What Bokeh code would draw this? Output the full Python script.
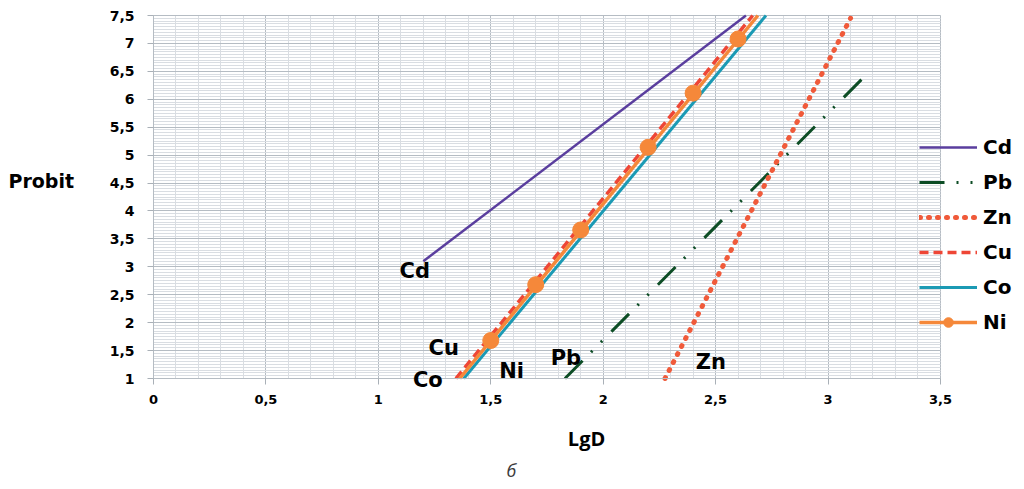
import numpy as np
from bokeh.plotting import figure
from bokeh.models import (Range1d, FixedTicker, Legend, LegendItem, Label,
                          LabelSet, ColumnDataSource)
from bokeh.core.properties import value
from bokeh.embed import file_html
from bokeh.resources import INLINE

# ---------------- data ----------------
x_ticks = [0, 0.5, 1, 1.5, 2, 2.5, 3, 3.5]
x_tick_labels = ["0", "0,5", "1", "1,5", "2", "2,5", "3", "3,5"]
y_ticks = [1, 1.5, 2, 2.5, 3, 3.5, 4, 4.5, 5, 5.5, 6, 6.5, 7, 7.5]
y_tick_labels = ["1", "1,5", "2", "2,5", "3", "3,5", "4", "4,5", "5", "5,5",
                 "6", "6,5", "7", "7,5"]

cd_x = [1.20, 2.635]
cd_y = [3.10, 7.50]
pb_x = [1.83, 3.165]
pb_y = [1.00, 6.42]
zn_x = [2.275, 3.10]
zn_y = [1.00, 7.45]
cu_x = [1.345, 2.665]
cu_y = [1.00, 7.50]
co_x = [1.38, 2.724]
co_y = [1.00, 7.50]
ni_line_x = [1.362, 2.688]
ni_line_y = [1.00, 7.50]
ni_x = [1.5, 1.7, 1.9, 2.2, 2.4, 2.6]
ni_y = [1.68, 2.68, 3.66, 5.14, 6.11, 7.08]

series_names = ["Cd", "Pb", "Zn", "Cu", "Co", "Ni"]
# in-chart name annotations (data coordinates)
ann_names = ["Cd", "Cu", "Co", "Ni", "Pb", "Zn"]
ann_x = [1.162, 1.291, 1.22, 1.593, 1.834, 2.479]
ann_y = [2.93, 1.55, 0.97, 1.14, 1.36, 1.30]

X_MIN, X_MAX = 0, 3.5
Y_MIN, Y_MAX = 1, 7.5

# ---------------- figure ----------------
FONT = "Open Sans"
BFONT = "DejaVu Sans"
GRID_MAJOR = "#b5bcc3"
GRID_MINOR = "#d9dde2"

p = figure(width=1024, height=489, output_backend="svg", toolbar_location=None,
           x_range=Range1d(-0.6804, 3.8738), y_range=Range1d(-0.9876, 7.7686))
p.min_border = 0
p.min_border_left = 0
p.min_border_right = 0
p.min_border_top = 0
p.min_border_bottom = 0
p.background_fill_color = "white"
p.border_fill_color = "white"
p.outline_line_color = None

xt = FixedTicker(ticks=x_ticks,
                 minor_ticks=list(np.round(np.arange(X_MIN, X_MAX + 1e-6, 0.1), 3)))
yt = FixedTicker(ticks=y_ticks,
                 minor_ticks=list(np.round(np.arange(Y_MIN, Y_MAX + 1e-6, 0.05), 3)))
p.xaxis.ticker = xt
p.yaxis.ticker = yt
p.xgrid.ticker = xt
p.ygrid.ticker = yt
p.xaxis.major_label_overrides = {t: l for t, l in zip(x_ticks, x_tick_labels)}
p.yaxis.major_label_overrides = {t: l for t, l in zip(y_ticks, y_tick_labels)}

p.xaxis.fixed_location = Y_MIN
p.yaxis.fixed_location = X_MIN
p.xaxis.bounds = (X_MIN, X_MAX)
p.yaxis.bounds = (Y_MIN, Y_MAX)

p.xgrid.bounds = (X_MIN, X_MAX)
p.xgrid.cross_bounds = (Y_MIN, Y_MAX)
p.ygrid.bounds = (Y_MIN, Y_MAX)
p.ygrid.cross_bounds = (X_MIN, X_MAX)
for g in (p.xgrid, p.ygrid):
    g.grid_line_color = GRID_MAJOR
    g.grid_line_width = 1
    g.minor_grid_line_color = GRID_MINOR
    g.minor_grid_line_width = 1

for ax in (p.xaxis, p.yaxis):
    ax.axis_line_color = GRID_MAJOR
    ax.major_tick_line_color = "#a9b0b7"
    ax.major_tick_out = 6
    ax.major_tick_in = 0
    ax.minor_tick_line_color = None
    ax.major_label_text_font = BFONT
    ax.major_label_text_font_style = "bold"
    ax.major_label_text_color = "black"
p.xaxis.major_label_text_font_size = "13px"
p.yaxis.major_label_text_font_size = "14px"
p.xaxis.major_label_standoff = 10
p.yaxis.major_label_standoff = 13

# ---------------- series ----------------
r_cd = p.line(cd_x, cd_y, line_color="#5a3e9e", line_width=2.5)
r_pb = p.line(pb_x, pb_y, line_color="#0d4d25", line_width=3,
              line_dash="25 12 2 12 2 13")
r_zn = p.line(zn_x, zn_y, line_color="#f05a3a", line_width=5,
              line_dash="1 8", line_cap="round")
r_cu = p.line(cu_x, cu_y, line_color="#ee4636", line_width=3.5, line_dash="9 5")
r_co = p.line(co_x, co_y, line_color="#1b9ab4", line_width=3)
r_ni = p.line(ni_line_x, ni_line_y, line_color="#f5883a", line_width=3.5)
r_nim = p.scatter(ni_x, ni_y, size=16, marker="circle", fill_color="#f5883a",
                  line_color="#f5883a")

legend = Legend(items=[
    LegendItem(label=series_names[0], renderers=[r_cd]),
    LegendItem(label=series_names[1], renderers=[r_pb]),
    LegendItem(label=series_names[2], renderers=[r_zn]),
    LegendItem(label=series_names[3], renderers=[r_cu]),
    LegendItem(label=series_names[4], renderers=[r_co]),
    LegendItem(label=series_names[5], renderers=[r_ni, r_nim]),
], location=(919, 155), orientation="vertical")
legend.background_fill_alpha = 0
legend.border_line_color = None
legend.padding = 0
legend.margin = 0
legend.spacing = 11
legend.glyph_width = 58
legend.glyph_height = 24
legend.label_height = 24
legend.label_standoff = 6
legend.label_text_font = BFONT
legend.label_text_font_style = "bold"
legend.label_text_font_size = "20px"
legend.label_text_color = "black"
legend.label_text_baseline = "middle"
p.add_layout(legend, "center")

ann_src = ColumnDataSource(dict(x=ann_x, y=ann_y, text=ann_names))
p.add_layout(LabelSet(x="x", y="y", text="text", source=ann_src,
                      text_font=value(BFONT), text_font_style="bold",
                      text_font_size="21px", text_color="black",
                      text_align="center", text_baseline="middle"))

p.add_layout(Label(x=-0.645, y=4.545, text="Probit", text_font=BFONT,
                   text_font_style="bold", text_font_size="19px",
                   text_color="black", text_align="left",
                   text_baseline="middle"))
p.add_layout(Label(x=1.926, y=-0.074, text="LgD", text_font=FONT,
                   text_font_style="bold", text_font_size="20px",
                   text_color="black", text_align="center",
                   text_baseline="middle"))
p.add_layout(Label(x=1.592, y=-0.647, text="б", text_font=FONT,
                   text_font_style="italic", text_font_size="18px",
                   text_color="#3a3a3a", text_align="center",
                   text_baseline="middle"))

open("out.html", "w").write(file_html(p, INLINE))
